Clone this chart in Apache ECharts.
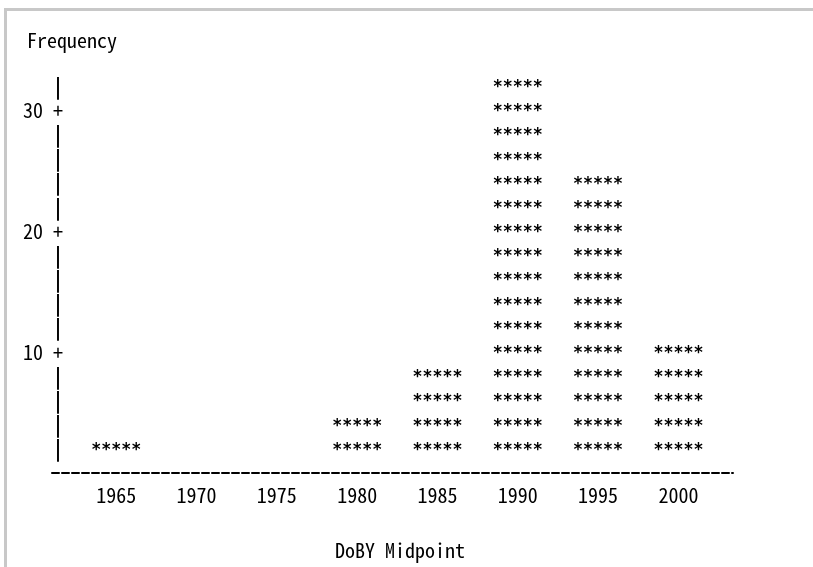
<!DOCTYPE html>
<html>
<head>
<meta charset="utf-8">
<script src="https://cdn.jsdelivr.net/npm/echarts@6/dist/echarts.min.js"></script>
<style>
html,body{margin:0;padding:0;background:#fff;}
#chart{width:813px;height:567px;}
</style>
</head>
<body>
<div id="chart"></div>
<script>
const midpoints = [1965, 1970, 1975, 1980, 1985, 1990, 1995, 2000];
const frequencies = [2, 0, 0, 4, 8, 32, 24, 10];
const xTickLabels = [1965, 1970, 1975, 1980, 1985, 1990, 1995, 2000];
const yAxisTitle = 'Frequency';
const xAxisTitle = 'DoBY Midpoint';
const rowStep = 2; // each printed row = 2 units

const FONT = "'Noto Sans Mono CJK JP', 'DejaVu Sans Mono', monospace";
const STAR_FONT = "'DejaVu Sans Mono', monospace";
const FS = 20;

const chart = echarts.init(document.getElementById('chart'), null, {renderer: 'canvas'});
const seriesData = midpoints.map((m, i) => [m, frequencies[i]]);

chart.setOption({
  animation: false,
  backgroundColor: '#fff',
  graphic: [{
    type: 'rect', left: 3, top: 7, z: -1,
    shape: {width: 900, height: 700},
    style: {fill: 'none', stroke: '#c8c8c8', lineWidth: 3}
  }],
  title: [
    {text: yAxisTitle, left: 22, top: 25, textStyle: {fontFamily: FONT, fontSize: FS, fontWeight: 'normal', color: '#000'}},
    {text: xAxisTitle, left: 330, top: 535, textStyle: {fontFamily: FONT, fontSize: FS, fontWeight: 'normal', color: '#000'}}
  ],
  grid: {left: 52, right: 80, top: 86, bottom: 94},
  xAxis: {
    type: 'value', min: 1961, max: 2003.4,
    axisLine: {show: true, lineStyle: {color: '#000', width: 2, type: [7, 3]}},
    axisTick: {show: false},
    splitLine: {show: false},
    axisLabel: {
      customValues: xTickLabels,
      margin: 12,
      fontFamily: FONT, fontSize: FS, color: '#000',
      formatter: v => String(v)
    }
  },
  yAxis: {
    type: 'value', min: 0, max: 32, interval: 2,
    axisLine: {show: false},
    axisTick: {show: false},
    splitLine: {show: false},
    axisLabel: {
      margin: -11,
      showMinLabel: true, showMaxLabel: true,
      fontFamily: FONT, fontSize: FS, color: '#000',
      formatter: v => v === 0 ? '' : (v % 10 === 0 ? v + ' +' : '{p||}'),
      rich: {
        p: {fontFamily: FONT, fontSize: FS, fontWeight: 'bold', color: '#000'}
      }
    }
  },
  series: [{
    type: 'custom',
    data: seriesData,
    renderItem: function (params, api) {
      const x = api.value(0);
      const n = api.value(1) / rowStep;
      const children = [];
      for (let k = 1; k <= n; k++) {
        const p = api.coord([x, k * rowStep]);
        children.push({
          type: 'text',
          x: p[0], y: p[1] - 1,
          scaleX: 0.755, scaleY: 0.8,
          style: {
            x: 0, y: 3, text: '*****',
            align: 'center', verticalAlign: 'middle',
            font: "bold 22px " + STAR_FONT, fill: '#000'
          }
        });
      }
      return {type: 'group', children: children};
    }
  }]
});
</script>
</body>
</html>
